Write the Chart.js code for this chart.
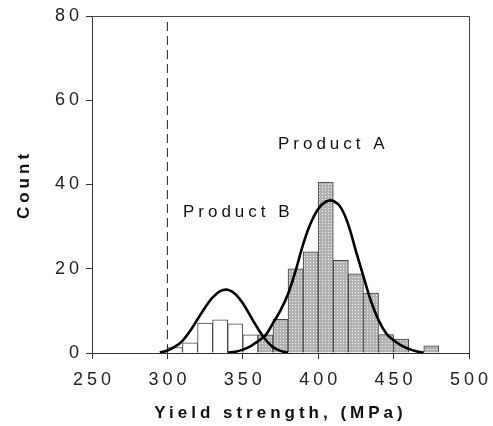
<!DOCTYPE html>
<html>
<head>
<meta charset="utf-8">
<script src="https://cdn.jsdelivr.net/npm/chart.js@4/dist/chart.umd.min.js"></script>
<style>
  html, body { margin: 0; padding: 0; background: #fff; }
  #wrap { width: 493px; height: 426px; }
</style>
</head>
<body>
<div id="wrap"><canvas id="c" width="493" height="426"></canvas></div>
<script>
// ---- data ----
const binCentersB = [305, 315, 325, 335, 345, 355];
const countsB     = [1.3, 2.4, 7.1, 7.9, 6.9, 4.3];

const binCentersA = [365, 375, 385, 395, 405, 415, 425, 435, 445, 455, 465, 475];
const countsA     = [4.3, 8.0, 20.0, 24.0, 40.6, 22.0, 18.8, 14.2, 4.4, 3.3, 0, 1.7];

const curveBx = [295, 300, 305, 310, 315, 320, 325, 330, 335, 340, 345, 350, 355, 360, 365, 370, 375, 380];
const curveBy = [0.1, 0.6, 1.5, 2.9, 5.2, 8.0, 10.8, 13.2, 14.7, 15.0, 14.0, 11.8, 8.8, 5.8, 3.2, 1.4, 0.5, 0.1];

const curveAx = [340, 345, 350, 355, 360, 365, 370, 375, 380, 385, 390, 395, 400, 405, 410, 415, 420, 425, 430, 435, 440, 445, 450, 455, 460, 465, 470];
const curveAy = [0.1, 0.3, 0.8, 1.6, 2.8, 4.2, 7.1, 10.1, 14.0, 19.5, 25.8, 30.8, 34.2, 35.9, 36.1, 34.5, 30.4, 24.2, 18.2, 12.3, 7.8, 4.7, 3.0, 1.8, 1.0, 0.4, 0.1];

const specLimitX = [300, 300];
const specLimitY = [0, 79.4];

const xTicks = [250, 300, 350, 400, 450, 500];
const yTicks = [0, 20, 40, 60, 80];

const labelNames = ['Product A', 'Product B'];
const labelX = [410, 347];
const labelY = [49.6, 33.4];

const xTitle = 'Yield strength, (MPa)';
const yTitle = 'Count';

// ---- helpers ----
const zip = (xs, ys) => xs.map((x, i) => ({ x: x, y: ys[i] }));

function makePattern() {
  const pc = document.createElement('canvas');
  pc.width = 3; pc.height = 3;
  const p = pc.getContext('2d');
  p.fillStyle = '#b2b2b2';
  p.fillRect(0, 0, 3, 3);
  p.fillStyle = '#f2f2f2';
  p.fillRect(1, 1, 1, 1);
  return document.getElementById('c').getContext('2d').createPattern(pc, 'repeat');
}

const spacingPlugin = {
  id: 'spacing',
  beforeLayout(chart) { chart.ctx.letterSpacing = '4px'; },
  beforeDraw(chart) { chart.ctx.letterSpacing = '4px'; }
};

const framePlugin = {
  id: 'frame',
  afterDraw(chart) {
    const { ctx, chartArea: a } = chart;
    ctx.save();
    ctx.strokeStyle = '#444';
    ctx.lineWidth = 1;
    ctx.beginPath();
    ctx.moveTo(a.left, a.top + 0.5);
    ctx.lineTo(a.right + 0.5, a.top + 0.5);
    ctx.lineTo(a.right + 0.5, a.bottom);
    ctx.stroke();
    ctx.restore();
  }
};

const labelPlugin = {
  id: 'productLabels',
  afterDatasetsDraw(chart) {
    const { ctx, scales } = chart;
    ctx.save();
    ctx.letterSpacing = '4px';
    ctx.font = '17px "Liberation Sans", Arial, sans-serif';
    ctx.fillStyle = '#111';
    ctx.textAlign = 'center';
    ctx.textBaseline = 'middle';
    labelNames.forEach((t, i) => {
      ctx.fillText(t, scales.x.getPixelForValue(labelX[i]), scales.y.getPixelForValue(labelY[i]));
    });
    ctx.restore();
  }
};

const grey = makePattern();

new Chart(document.getElementById('c'), {
  type: 'bar',
  data: {
    datasets: [
      {
        type: 'line', data: zip(curveBx, curveBy), borderColor: '#000', borderWidth: 2.6,
        pointRadius: 0, tension: 0.4, fill: false, order: 0
      },
      {
        type: 'line', data: zip(curveAx, curveAy), borderColor: '#000', borderWidth: 2.6,
        pointRadius: 0, tension: 0.4, fill: false, order: 0
      },
      {
        type: 'line', data: zip(specLimitX, specLimitY), borderColor: '#222', borderWidth: 1,
        borderDash: [9, 5], pointRadius: 0, fill: false, order: 0
      },
      {
        type: 'bar', data: zip(binCentersB, countsB), backgroundColor: '#ffffff',
        borderColor: '#444', borderWidth: 1, order: 1
      },
      {
        type: 'bar', data: zip(binCentersA, countsA), backgroundColor: grey,
        borderColor: '#444', borderWidth: 1, order: 1
      }
    ]
  },
  options: {
    responsive: false,
    animation: false,
    events: [],
    grouped: false,
    barPercentage: 1,
    categoryPercentage: 1,
    layout: { padding: { top: 16, right: 24, left: 0, bottom: 0 } },
    plugins: { legend: { display: false }, tooltip: { enabled: false } },
    scales: {
      x: {
        type: 'linear', min: 250, max: 500, offset: false,
        afterBuildTicks(s) { s.ticks = xTicks.map(v => ({ value: v })); },
        afterFit(s) { s.height = 73; s.paddingLeft = 0; s.paddingRight = 0; },
        grid: { offset: false, drawOnChartArea: false, drawTicks: true, tickLength: 6, color: '#333' },
        border: { display: true, color: '#333', width: 1 },
        ticks: {
          color: '#222', padding: 10, labelOffset: 2,
          font: { family: '"Liberation Sans", Arial, sans-serif', size: 18 }
        },
        title: {
          display: true, text: xTitle, color: '#111', padding: { top: 0, bottom: 2 },
          font: { family: '"Liberation Sans", Arial, sans-serif', size: 17, weight: 'bold' }
        }
      },
      y: {
        type: 'linear', min: 0, max: 80,
        afterBuildTicks(s) { s.ticks = yTicks.map(v => ({ value: v })); },
        afterFit(s) { s.width = 92; s.paddingTop = 0; s.paddingBottom = 0; },
        grid: { drawOnChartArea: false, drawTicks: true, tickLength: 6, color: '#333' },
        border: { display: true, color: '#333', width: 1 },
        ticks: {
          color: '#222', padding: 3,
          font: { family: '"Liberation Sans", Arial, sans-serif', size: 18 }
        },
        title: {
          display: true, text: yTitle, color: '#111', padding: { top: 14, bottom: 0 },
          font: { family: '"Liberation Sans", Arial, sans-serif', size: 17, weight: 'bold' }
        }
      }
    }
  },
  plugins: [spacingPlugin, framePlugin, labelPlugin]
});
</script>
</body>
</html>
